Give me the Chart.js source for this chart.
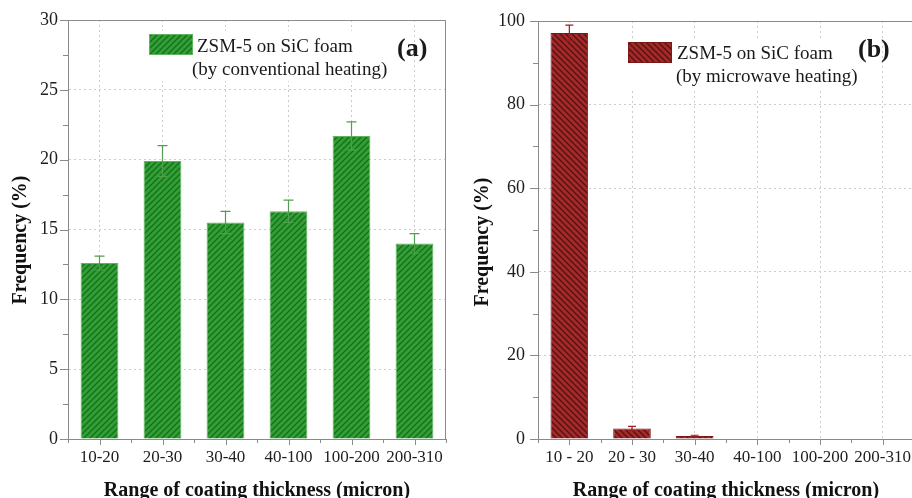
<!DOCTYPE html>
<html><head><meta charset="utf-8">
<script src="https://cdn.jsdelivr.net/npm/chart.js@4.4.1/dist/chart.umd.min.js"></script>
<style>
html,body{margin:0;padding:0;background:#fff;overflow:hidden;width:912px;height:498px;}
#wrap{position:relative;width:912px;height:498px;overflow:hidden;background:#fff;}
#c1{position:absolute;left:0;top:0;}
#c2{position:absolute;left:460px;top:0;}
</style></head><body>
<div id="wrap"><canvas id="c1" width="460" height="498"></canvas><canvas id="c2" width="470" height="498"></canvas></div>
<script>
// ---- data ----
const categoriesA = ['10-20', '20-30', '30-40', '40-100', '100-200', '200-310'];
const valuesA = [12.6, 19.9, 15.5, 16.3, 21.7, 14.0];
const errorsA = [0.5, 1.1, 0.8, 0.8, 1.0, 0.7];
const yTicksA = [0, 5, 10, 15, 20, 25, 30];
const yMinorA = [2.5, 7.5, 12.5, 17.5, 22.5, 27.5];

const categoriesB = ['10 - 20', '20 - 30', '30-40', '40-100', '100-200', '200-310'];
const valuesB = [97.1, 2.5, 0.7, 0, 0, 0];
const errorsB = [1.9, 0.5, 0.2, 0, 0, 0];
const yTicksB = [0, 20, 40, 60, 80, 100];
const yMinorB = [10, 30, 50, 70, 90];

const legendA = ['ZSM-5 on SiC foam', '(by conventional heating)'];
const legendB = ['ZSM-5 on SiC foam', '(by microwave heating)'];
const xTitle = 'Range of coating thickness (micron)';
const yTitle = 'Frequency (%)';

// ---- styling ----
const FONT = "'Liberation Serif','Times New Roman',serif";
const AXIS = '#8a8a8a';
const GRID = '#cccccc';

function makePattern(bg, stripe, dir) {
  const s = 6;
  const c = document.createElement('canvas');
  c.width = s; c.height = s;
  const g = c.getContext('2d');
  g.fillStyle = bg; g.fillRect(0, 0, s, s);
  g.strokeStyle = stripe; g.lineWidth = 1.3;
  g.beginPath();
  if (dir === '/') {
    g.moveTo(-1, s + 1); g.lineTo(s + 1, -1);
    g.moveTo(-1, 1); g.lineTo(1, -1);
    g.moveTo(s - 1, s + 1); g.lineTo(s + 1, s - 1);
  } else {
    g.moveTo(-1, -1); g.lineTo(s + 1, s + 1);
    g.moveTo(s - 1, -1); g.lineTo(s + 1, 1);
    g.moveTo(-1, s - 1); g.lineTo(1, s + 1);
  }
  g.stroke();
  return g.createPattern(c, 'repeat');
}

function panelPlugin(cfg) {
  return {
    id: 'panel' + cfg.key,
    afterDatasetsDraw(chart) {
      const ctx = chart.ctx, a = chart.chartArea, y = chart.scales.y;
      const bars = chart.getDatasetMeta(0).data;
      ctx.save();
      // error bars
      ctx.strokeStyle = cfg.errColor; ctx.lineWidth = 1.2;
      cfg.values.forEach((v, i) => {
        const e = cfg.errors[i]; if (!e) return;
        const px = bars[i].x;
        const yt = y.getPixelForValue(v + e), yb = y.getPixelForValue(v - e);
        ctx.beginPath();
        ctx.moveTo(px, yt); ctx.lineTo(px, yb);
        ctx.moveTo(px - cfg.cap, yt); ctx.lineTo(px + cfg.cap, yt);
        ctx.moveTo(px - cfg.cap, yb); ctx.lineTo(px + cfg.cap, yb);
        ctx.stroke();
      });
      // frame
      ctx.strokeStyle = AXIS; ctx.lineWidth = 1;
      ctx.beginPath();
      ctx.moveTo(a.left, a.top + 0.5); ctx.lineTo(a.right - 0.5, a.top + 0.5); ctx.lineTo(a.right - 0.5, a.bottom);
      ctx.stroke();
      // y ticks
      ctx.beginPath();
      cfg.yMajor.forEach(v => { const py = Math.round(y.getPixelForValue(v)) + 0.5; ctx.moveTo(a.left - 8, py); ctx.lineTo(a.left, py); });
      cfg.yMinor.forEach(v => { const py = Math.round(y.getPixelForValue(v)) + 0.5; ctx.moveTo(a.left - 5, py); ctx.lineTo(a.left, py); });
      // x ticks
      const xs = bars.map(b => b.x);
      xs.forEach(px => { const q = Math.round(px) + 0.5; ctx.moveTo(q, a.bottom); ctx.lineTo(q, a.bottom + 6); });
      const step = xs.length > 1 ? xs[1] - xs[0] : 0;
      for (let i = 0; i <= xs.length; i++) {
        const q = Math.round(xs[0] - step / 2 + i * step) + 0.5;
        ctx.moveTo(q, a.bottom); ctx.lineTo(q, a.bottom + 4);
      }
      ctx.stroke();
      // legend
      const L = cfg.legend;
      ctx.fillStyle = '#fff';
      ctx.fillRect(L.bgx, L.bgy, L.bgw, L.bgh);
      ctx.fillStyle = cfg.fill;
      ctx.fillRect(L.bx, L.by, L.bw, L.bh);
      ctx.strokeStyle = cfg.border; ctx.lineWidth = 1;
      ctx.strokeRect(L.bx + 0.5, L.by + 0.5, L.bw - 1, L.bh - 1);
      ctx.fillStyle = '#1a1a1a';
      ctx.font = '19px ' + FONT;
      ctx.textAlign = 'left'; ctx.textBaseline = 'alphabetic';
      ctx.fillText(cfg.legendText[0], L.t1x, L.t1y);
      ctx.fillText(cfg.legendText[1], L.t2x, L.t2y);
      ctx.font = 'bold 26px ' + FONT;
      ctx.fillText(cfg.panel, L.px, L.py);
      // axis titles
      ctx.fillStyle = '#111';
      ctx.font = 'bold 20px ' + FONT;
      ctx.textAlign = 'center';
      ctx.fillText(xTitle, (a.left + a.right) / 2, 496);
      ctx.translate(cfg.ytx, cfg.yty);
      ctx.rotate(-Math.PI / 2);
      ctx.textBaseline = 'middle';
      ctx.fillText(yTitle, 0, 0);
      ctx.restore();
    }
  };
}

function makeChart(id, cfg) {
  const ctx = document.getElementById(id).getContext('2d');
  return new Chart(ctx, {
    type: 'bar',
    data: {
      labels: cfg.labels,
      datasets: [{
        data: cfg.values,
        backgroundColor: cfg.fill,
        borderColor: cfg.border,
        borderWidth: 1,
        barPercentage: 0.6,
        categoryPercentage: 1.0
      }]
    },
    options: {
      responsive: false,
      animation: false,
      devicePixelRatio: 1,
      layout: { padding: cfg.padding },
      plugins: { legend: { display: false }, tooltip: { enabled: false } },
      scales: {
        x: {
          type: 'category',
          offset: true,
          afterFit(s) { s.height = 59; },
          grid: { offset: false, color: GRID, lineWidth: 1, drawTicks: true, tickLength: 6, tickColor: 'rgba(0,0,0,0)' },
          border: { display: true, color: AXIS, width: 1, dash: [2, 3] },
          ticks: { color: '#1e1e1e', font: { family: FONT, size: 17 }, padding: 2, maxRotation: 0, autoSkip: false }
        },
        y: {
          min: cfg.yMajor[0],
          max: cfg.yMajor[cfg.yMajor.length - 1],
          afterFit(s) { s.width = cfg.yWidth; },
          afterBuildTicks(s) { s.ticks = cfg.yMajor.map(v => ({ value: v })); },
          grid: { color: GRID, lineWidth: 1, drawTicks: true, tickLength: 8, tickColor: 'rgba(0,0,0,0)' },
          border: { display: true, color: AXIS, width: 1, dash: [2, 3] },
          ticks: { color: '#1e1e1e', font: { family: FONT, size: 18 }, padding: cfg.yPad }
        }
      }
    },
    plugins: [panelPlugin(cfg)]
  });
}

const fillA = makePattern('#30a035', '#1a6a1e', '/');
const fillB = makePattern('#a32a2a', '#5a0f0f', '\\');

makeChart('c1', {
  key: 'A', labels: categoriesA, values: valuesA, errors: errorsA,
  yMajor: yTicksA, yMinor: yMinorA,
  fill: fillA, border: '#5fb55f', errColor: '#4f9f4f', cap: 5,
  padding: { top: 20, right: 14, left: 0, bottom: 0 }, yWidth: 68, yPad: 2,
  legendText: legendA, panel: '(a)',
  legend: { bgx: 145, bgy: 31, bgw: 250, bgh: 50, bx: 149, by: 34, bw: 44, bh: 21,
            t1x: 197, t1y: 52, t2x: 192, t2y: 75, px: 397, py: 56 },
  ytx: 21, yty: 240
});

makeChart('c2', {
  key: 'B', labels: categoriesB, values: valuesB, errors: errorsB,
  yMajor: yTicksB, yMinor: yMinorB,
  fill: fillB, border: '#7a1818', errColor: '#9a1f1f', cap: 4,
  padding: { top: 21, right: 16, left: 0, bottom: 0 }, yWidth: 78, yPad: 5,
  legendText: legendB, panel: '(b)',
  legend: { bgx: 164, bgy: 38, bgw: 228, bgh: 50, bx: 168, by: 42, bw: 44, bh: 21,
            t1x: 217, t1y: 59, t2x: 216, t2y: 82, px: 398, py: 57 },
  ytx: 23, yty: 242
});
</script>
</body></html>
